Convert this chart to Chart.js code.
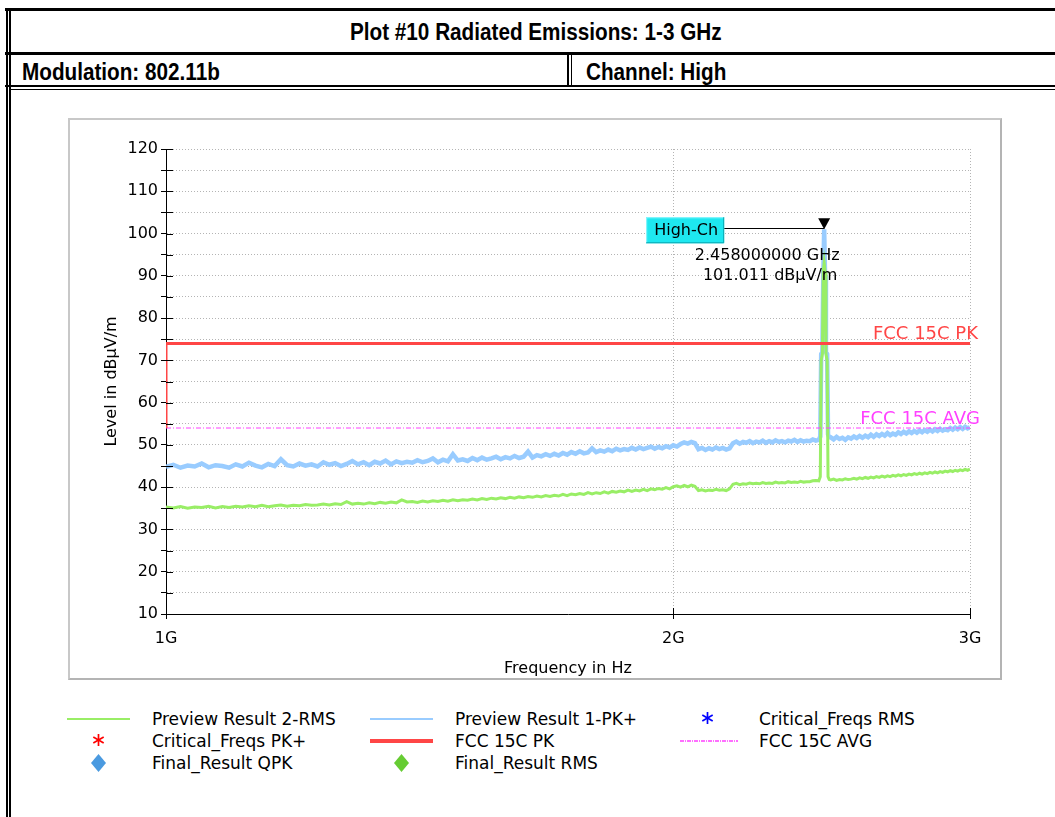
<!DOCTYPE html>
<html><head><meta charset="utf-8">
<script src="https://cdn.jsdelivr.net/npm/chart.js@4.4.1/dist/chart.umd.min.js"></script>
<style>
html,body{margin:0;padding:0;background:#fff;}
body{width:1055px;height:817px;position:relative;overflow:hidden;font-family:"DejaVu Sans",sans-serif;}
.bl{position:absolute;background:#000;}
.hdr{position:absolute;font-family:"Liberation Sans",Arial,sans-serif;font-weight:bold;font-size:23px;color:#000;white-space:nowrap;line-height:30px;transform:scaleX(0.9);transform-origin:left center;}
#box{position:absolute;left:68px;top:118px;width:930px;height:558px;border:2px solid #c8c8c8;border-right-color:#b4b4b4;border-bottom-color:#b4b4b4;background:#fff;}
#cv{position:absolute;left:0;top:0;}
.lg{position:absolute;font-size:17px;line-height:20px;white-space:nowrap;color:#000;}
.sym{position:absolute;}
</style></head>
<body>
<div class="bl" style="left:5px;top:8px;width:1050px;height:3px"></div>
<div class="bl" style="left:6px;top:8px;width:2px;height:809px"></div>
<div class="bl" style="left:9px;top:8px;width:2px;height:809px"></div>
<div class="hdr" id="ttl" style="top:17px">Plot #10 Radiated Emissions: 1-3 GHz</div>
<div class="bl" style="left:5px;top:52px;width:1050px;height:3px"></div>
<div class="hdr" style="left:22px;top:57px">Modulation: 802.11b</div>
<div class="hdr" style="left:586px;top:57px">Channel: High</div>
<div class="bl" style="left:567px;top:54px;width:2px;height:33px"></div>
<div class="bl" style="left:571px;top:54px;width:1px;height:33px"></div>
<div class="bl" style="left:5px;top:85px;width:1050px;height:2px"></div>
<div class="bl" style="left:11px;top:89px;width:1044px;height:1px"></div>
<div id="box"><canvas id="cv" width="930" height="558" style="width:930px;height:558px"></canvas></div>
<div id="legend"></div>
<script>
// ---- data ----
const freqMHz = [
1000,1010,1020,1030,1040,1050,1060,1070,1080,1090,
1100,1110,1120,1130,1140,1150,1160,1170,1180,1190,
1200,1210,1220,1230,1240,1250,1260,1270,1280,1290,
1300,1310,1320,1330,1340,1350,1360,1370,1380,1390,
1400,1410,1420,1430,1440,1450,1460,1470,1480,1490,
1500,1510,1520,1530,1540,1550,1560,1570,1580,1590,
1600,1610,1620,1630,1640,1650,1660,1670,1680,1690,
1700,1710,1720,1730,1740,1750,1760,1770,1780,1790,
1800,1810,1820,1830,1840,1850,1860,1870,1880,1890,
1900,1910,1920,1930,1940,1950,1960,1970,1980,1990,
2000,2010,2020,2030,2040,2050,2060,2070,2080,2090,
2100,2110,2120,2130,2140,2150,2160,2170,2180,2190,
2200,2210,2220,2230,2240,2250,2260,2270,2280,2290,
2300,2310,2320,2330,2340,2350,2360,2370,2380,2390,
2400,2410,2420,2430,
2440,2445,2448,2452,2455,2458,2461,2464,2468,2471,2475,
2480,2490,
2500,2510,2520,2530,2540,2550,2560,2570,2580,2590,
2600,2610,2620,2630,2640,2650,2660,2670,2680,2690,
2700,2710,2720,2730,2740,2750,2760,2770,2780,2790,
2800,2810,2820,2830,2840,2850,2860,2870,2880,2890,
2900,2910,2920,2930,2940,2950,2960,2970,2980,2990,
3000];

const pkLevel = [
44.8,45.3,44.6,45.1,44.9,45.6,44.7,45.2,45.0,44.6,
45.4,44.9,45.8,45.1,44.7,45.5,45.0,46.6,45.2,44.9,
45.6,45.1,45.4,44.9,45.9,45.3,45.7,45.0,45.5,46.2,
45.4,45.9,45.2,46.0,45.6,46.3,45.4,46.1,45.7,46.0,
45.8,46.4,45.9,46.2,46.8,45.9,46.5,46.1,47.8,46.3,
46.6,46.2,46.9,46.4,47.0,46.5,46.8,47.2,46.6,47.1,
46.8,47.4,46.9,47.2,48.4,47.0,47.6,47.3,47.8,47.4,
47.9,47.5,48.1,47.7,48.3,47.9,48.5,48.0,48.2,49.2,
48.3,48.7,48.4,48.9,48.5,49.1,48.7,49.0,48.8,49.3,
48.9,49.4,49.0,49.3,49.6,49.1,49.5,49.2,49.7,49.4,
49.9,49.6,50.2,50.6,50.3,50.7,50.4,49.0,49.3,48.8,
49.2,48.9,49.4,49.0,49.3,48.9,49.2,50.4,50.8,50.3,
50.7,50.5,50.9,50.4,50.8,50.6,51.0,50.5,50.9,50.6,
51.1,50.7,50.9,50.6,51.0,50.8,51.2,50.7,51.1,50.8,
51.0,50.9,51.3,51.0,
51.2,52.0,71.5,72.0,90.0,101.0,90.0,72.0,71.5,52.5,51.8,
51.8,51.3,
51.9,51.4,51.7,51.2,51.8,51.5,52.0,51.6,52.1,51.7,
52.2,51.8,52.4,51.9,52.5,52.1,52.6,52.2,52.8,52.3,
52.7,52.4,53.0,52.6,53.1,52.7,53.2,52.8,53.3,52.9,
53.4,53.0,53.5,53.1,53.6,53.2,53.7,53.3,53.8,53.4,
53.7,53.5,54.0,53.6,54.1,53.7,54.2,53.8,54.3,53.9,
54.2];

const rmsLevel = [
35.3,35.1,35.4,35.0,35.3,35.2,35.5,35.1,35.4,35.2,
35.5,35.3,35.6,35.4,35.7,35.4,35.6,35.8,35.5,35.7,
35.6,35.9,35.7,35.8,36.0,35.8,36.1,35.9,36.6,36.0,
36.2,36.0,36.3,36.1,36.4,36.2,36.5,36.3,37.0,36.5,
36.6,36.4,36.7,36.5,36.8,36.6,36.9,36.7,37.0,36.8,
37.0,36.9,37.2,37.0,37.3,37.1,37.4,37.2,37.5,37.3,
37.6,37.4,37.7,37.5,37.8,37.6,37.9,37.7,38.0,37.8,
38.1,37.9,38.3,38.0,38.4,38.2,38.5,38.3,38.7,38.4,
38.7,38.5,38.9,38.6,39.0,38.8,39.1,38.9,39.3,39.0,
39.3,39.1,39.5,39.2,39.6,39.4,39.7,39.5,39.9,39.6,
40.1,40.3,40.0,40.4,40.1,40.5,40.2,39.2,39.4,39.1,
39.3,39.2,39.5,39.3,39.4,39.2,39.6,40.7,40.9,40.6,
40.8,40.7,41.0,40.8,40.9,40.8,41.1,40.9,41.0,40.9,
41.2,41.0,41.1,41.0,41.3,41.1,41.2,41.1,41.4,41.2,
41.3,41.3,41.5,41.6,
41.5,42.5,70.0,71.5,91.0,93.0,91.0,71.5,70.0,42.5,41.8,
41.7,41.9,
41.6,41.8,41.7,42.0,41.8,41.9,42.1,41.9,42.2,42.0,
42.3,42.1,42.4,42.2,42.5,42.3,42.6,42.4,42.7,42.5,
42.8,42.6,42.9,42.7,43.0,42.8,43.1,42.9,43.2,43.0,
43.3,43.1,43.4,43.2,43.5,43.3,43.6,43.4,43.7,43.5,
43.8,43.6,43.9,43.7,44.0,43.8,44.1,43.9,44.2,44.0,
44.3];

const pkLimitFreqMHz = [1000, 1000, 3000];
const pkLimitLevel   = [54, 74, 74];
const avgLimitFreqMHz = [1000, 3000];
const avgLimitLevel   = [54, 54];

const seriesNames = ["Preview Result 2-RMS", "Preview Result 1-PK+", "Critical_Freqs RMS",
                     "Critical_Freqs PK+", "FCC 15C PK", "FCC 15C AVG",
                     "Final_Result QPK", "Final_Result RMS"];
const limitLabels = ["FCC 15C PK", "FCC 15C AVG"];

const xTickHz = [1e9, 2e9, 3e9];
const xTickLabels = ["1G", "2G", "3G"];

const markerName = "High-Ch";
const markerFreqGHz = 2.458;
const markerLevel = 101.011;

// center the title over the (wider than the window) table
(function(){ const t = document.getElementById('ttl'); const w = t.getBoundingClientRect().width; t.style.left = (536 - w / 2) + 'px'; })();

// ---- chart ----
const pts = (fs, ys) => fs.map((f, i) => ({x: f * 1e6, y: ys[i]}));

const colors = {rms:'#99ee66', pk:'#99ccff', pkLim:'#ff4646', avgLim:'#ff40ff'};

const datasets = [
  {label: seriesNames[0], data: pts(freqMHz, rmsLevel), borderColor: colors.rms, borderWidth: 3, order: 3,
   sym: {kind:'line', color: colors.rms, width: 2}},
  {label: seriesNames[1], data: pts(freqMHz, pkLevel), borderColor: colors.pk, borderWidth: 4.5, order: 4,
   sym: {kind:'line', color: colors.pk, width: 2}},
  {label: seriesNames[2], data: [], showLine: false, borderColor: '#0000ff', order: 5,
   sym: {kind:'star', color: '#0000ff'}},
  {label: seriesNames[3], data: [], showLine: false, borderColor: '#ff0000', order: 5,
   sym: {kind:'star', color: '#ff0000'}},
  {label: seriesNames[4], data: pts(pkLimitFreqMHz, pkLimitLevel), borderColor: colors.pkLim, borderWidth: 3, order: 1,
   sym: {kind:'line', color: colors.pkLim, width: 4}},
  {label: seriesNames[5], data: pts(avgLimitFreqMHz, avgLimitLevel), borderColor: colors.avgLim, borderWidth: 1,
   borderDash: [5, 2, 1, 2], order: 2,
   sym: {kind:'dashdot', color: colors.avgLim}},
  {label: seriesNames[6], data: [], showLine: false, borderColor: '#4499dd', order: 5,
   sym: {kind:'diamond', color: '#4a9ae0'}},
  {label: seriesNames[7], data: [], showLine: false, borderColor: '#66cc33', order: 5,
   sym: {kind:'diamond', color: '#66cc33'}}
];
datasets.forEach(d => { d.pointRadius = 0; d.tension = 0; d.fill = false; });

const overlay = {
  id: 'overlay',
  afterDatasetsDraw(chart) {
    const {ctx, chartArea: a} = chart;
    const x = chart.scales.x, y = chart.scales.y;
    ctx.save();
    ctx.strokeStyle = '#000'; ctx.lineWidth = 1;
    y.ticks.forEach(t => {
      const py = Math.round(y.getPixelForValue(t.value)) + 0.5;
      ctx.beginPath(); ctx.moveTo(a.left, py); ctx.lineTo(a.left + 7, py); ctx.stroke();
    });
    x.ticks.forEach(t => {
      const px = Math.round(x.getPixelForValue(t.value)) + 0.5;
      ctx.beginPath(); ctx.moveTo(px, a.bottom); ctx.lineTo(px, a.bottom - 6); ctx.stroke();
    });
    // limit labels
    ctx.font = '18px "DejaVu Sans"';
    ctx.textAlign = 'right'; ctx.textBaseline = 'alphabetic';
    ctx.fillStyle = colors.pkLim;
    ctx.fillText(limitLabels[0], a.right + 8, y.getPixelForValue(pkLimitLevel[2]) - 4);
    ctx.fillStyle = colors.avgLim;
    ctx.fillText(limitLabels[1], a.right + 10, y.getPixelForValue(avgLimitLevel[1]) - 4);
    // marker
    const mx = x.getPixelForValue(markerFreqGHz * 1e9);
    const my = y.getPixelForValue(markerLevel);
    const bx = mx - 178, by = my - 12, bw = 78, bh = 26;
    ctx.strokeStyle = '#000'; ctx.lineWidth = 1;
    ctx.beginPath(); ctx.moveTo(bx + bw, Math.round(my) - 0.5); ctx.lineTo(mx, Math.round(my) - 0.5); ctx.stroke();
    ctx.fillStyle = '#000';
    ctx.beginPath(); ctx.moveTo(mx - 6, my - 11); ctx.lineTo(mx + 6, my - 11); ctx.lineTo(mx, my); ctx.closePath(); ctx.fill();
    ctx.fillStyle = '#1ee8f0';
    ctx.fillRect(bx, by, bw, bh);
    ctx.strokeStyle = '#8ff8ff';
    ctx.beginPath(); ctx.moveTo(bx + 0.5, by + bh); ctx.lineTo(bx + 0.5, by + 0.5); ctx.lineTo(bx + bw, by + 0.5); ctx.stroke();
    ctx.strokeStyle = '#0aa6b0';
    ctx.beginPath(); ctx.moveTo(bx + bw - 0.5, by); ctx.lineTo(bx + bw - 0.5, by + bh - 0.5); ctx.lineTo(bx, by + bh - 0.5); ctx.stroke();
    ctx.fillStyle = '#000';
    ctx.font = '16px "DejaVu Sans"';
    ctx.textAlign = 'left'; ctx.textBaseline = 'middle';
    ctx.fillText(markerName, bx + 8, by + bh / 2 + 1);
    ctx.textAlign = 'center';
    ctx.fillText(markerFreqGHz.toFixed(9) + ' GHz', mx - 57, my + 27);
    ctx.fillText(markerLevel.toFixed(3) + ' dB\u00b5V/m', mx - 54, my + 47);
    ctx.restore();
  }
};

const axisCommon = {
  grid: {color: '#b4b4b4', lineWidth: 1, tickColor: '#000', tickLength: 5, tickWidth: 1, drawTicks: true},
  border: {display: true, color: '#000', width: 1, dash: [1, 2]}
};

const chart = new Chart(document.getElementById('cv'), {
  type: 'line',
  data: {datasets},
  options: {
    responsive: false, animation: false, events: [],
    layout: {padding: {left: 0, top: 29, right: 30, bottom: 0}},
    plugins: {legend: {display: false}, tooltip: {enabled: false}},
    scales: {
      x: Object.assign({
        type: 'logarithmic', min: 1e9, max: 3e9,
        afterBuildTicks: s => { s.ticks = xTickHz.map(v => ({value: v})); },
        afterFit: s => { s.height = 64; },
        ticks: {callback: (v, i) => xTickLabels[i], padding: 10, maxRotation: 0, autoSkip: false,
                color: '#000', font: {family: 'DejaVu Sans', size: 16}},
        title: {display: true, text: 'Frequency in Hz', color: '#000',
                font: {family: 'DejaVu Sans', size: 16}, padding: {top: 0, bottom: 0}}
      }, axisCommon),
      y: Object.assign({
        type: 'linear', min: 10, max: 120,
        afterFit: s => { s.width = 96; },
        ticks: {stepSize: 5, callback: v => (v % 10 === 0 ? String(v) : ''), padding: 3, autoSkip: false,
                color: '#000', font: {family: 'DejaVu Sans', size: 16}},
        title: {display: true, text: 'Level in dB\u00b5V/m', color: '#000',
                font: {family: 'DejaVu Sans', size: 16}, padding: {top: 32, bottom: 0}}
      }, axisCommon)
    }
  },
  plugins: [overlay]
});

// ---- legend (HTML, built from the dataset list) ----
const lg = document.getElementById('legend');
const colSym = [67, 370, 676], colText = [152, 455, 759], rowY = [719, 741, 763];
const NS = 'http://www.w3.org/2000/svg';
datasets.forEach((d, k) => {
  const r = Math.floor(k / 3), c = k % 3;
  const svg = document.createElementNS(NS, 'svg');
  svg.setAttribute('width', 72); svg.setAttribute('height', 22);
  svg.setAttribute('class', 'sym');
  svg.style.left = colSym[c] + 'px'; svg.style.top = (rowY[r] - 11) + 'px';
  const s = d.sym;
  const add = (tag, attrs) => { const e = document.createElementNS(NS, tag); for (const a in attrs) e.setAttribute(a, attrs[a]); svg.appendChild(e); };
  if (s.kind === 'line') {
    add('line', {x1: 0, y1: 11, x2: 63, y2: 11, stroke: s.color, 'stroke-width': s.width});
  } else if (s.kind === 'dashdot') {
    add('line', {x1: 4, y1: 11, x2: 62, y2: 11, stroke: s.color, 'stroke-width': 1.3, 'stroke-dasharray': '4 1 1 1'});
  } else if (s.kind === 'star') {
    const cx = 31.5, cy = 10, R = 6;
    [[0, -R, 0, R], [-5.2, -3, 5.2, 3], [-5.2, 3, 5.2, -3]].forEach(q =>
      add('line', {x1: cx + q[0], y1: cy + q[1], x2: cx + q[2], y2: cy + q[3], stroke: s.color, 'stroke-width': 1.7}));
  } else if (s.kind === 'diamond') {
    add('polygon', {points: '31.5,2 39,11 31.5,20 24,11', fill: s.color});
  }
  lg.appendChild(svg);
  const t = document.createElement('div');
  t.className = 'lg';
  t.style.left = colText[c] + 'px'; t.style.top = (rowY[r] - 10) + 'px';
  t.textContent = d.label;
  lg.appendChild(t);
});
</script>
</body></html>
